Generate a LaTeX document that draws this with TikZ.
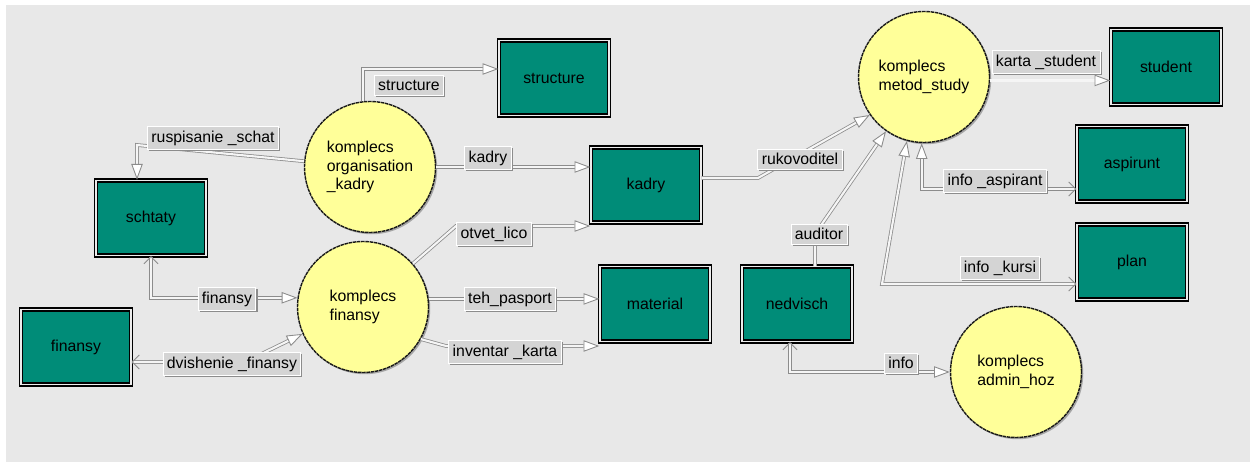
\documentclass[tikz,border=0pt]{standalone}
\usepackage{fontspec}
\setmainfont{Liberation Sans}
\usetikzlibrary{
	arrows.meta,
	positioning,
	calc,
	shadows
}

\definecolor{zelen}{RGB}{0,140,120}
\definecolor{zheltyj}{RGB}{255,255,153}
\definecolor{fon}{RGB}{232,232,232}
\definecolor{seryj}{RGB}{212,212,212}
\definecolor{liniya}{RGB}{140,140,140}

\begin{document}
\begin{tikzpicture}[
  x={(0.02cm,0)}, y={(0,-0.02cm)},
  tablica/.style={rectangle, draw=black, line width=0.8pt,
    double=white!85!gray, double distance=0.7pt, fill=zelen,
    minimum width=2.2cm, minimum height=1.5cm, inner sep=0pt,
    font=\fontsize{9}{10}\selectfont,
    drop shadow={shadow xshift=1.3pt, shadow yshift=-1.3pt, fill=black!55, opacity=1}},
  kompleks/.style={circle, draw=black!90, line width=0.8pt,
    dash pattern=on 2pt off 0.4pt, fill=zheltyj,
    minimum size=2.62cm, inner sep=0pt, align=left,
    font=\fontsize{9}{10.5}\selectfont,
    drop shadow={shadow xshift=1pt, shadow yshift=-1pt, fill=black!35, opacity=1}},
  metka/.style={rectangle, fill=seryj, draw=white, line width=0.5pt,
    inner sep=2.2pt, minimum height=0.4cm, font=\fontsize{9}{10}\selectfont,
    drop shadow={shadow xshift=0.9pt, shadow yshift=-0.9pt, fill=black!45, opacity=1}},
  potok/.style={draw=liniya, line width=0.45pt, double=white!92!gray,
    double distance=1.2pt},
  treug/.style={potok, -{Triangle[fill=white, length=9pt, width=6.5pt, line width=0.5pt]}},
  dvoj/.style={potok, {Straight Barb[length=4pt, width=8pt]}-{Triangle[fill=white, length=9pt, width=6.5pt, line width=0.5pt]}},
  obr/.style={potok, {Triangle[fill=white, length=9pt, width=6.5pt, line width=0.5pt]}-{Straight Barb[length=4pt, width=8pt]}}
]
\useasboundingbox (0,0) rectangle (1254,462);
\fill[white] (0,0) rectangle (1254,462);
\fill[fon] (6,5) rectangle (1250,462);

\foreach \name/\x/\y/\txt in {
  structure/554/78/structure,
  kadry/646/185/kadry,
  student/1166/67/student,
  aspirunt/1132/164/aspirunt,
  plan/1132/262/plan,
  schtaty/151/218/schtaty,
  finansy/76/347/finansy,
  material/655/304/material,
  nedvisch/797/304/nedvisch}
{
  \node[tablica] (\name) at (\x,\y) {\txt};
}

\node[kompleks] (okadry) at (370,167) {komplecs\\organisation\\\_kadry};
\node[kompleks] (kfin) at (363,307) {komplecs\\finansy};
\node[kompleks] (kmetod) at (924,77) {komplecs\\metod\_study};
\node[kompleks] (kadmin) at (1016,372) {komplecs\\admin\_hoz};

\draw[treug] (okadry.96) |- ([yshift=0.18cm]structure.west);
\draw[treug] (okadry.175) -- (137,145) -- (137,145 |- schtaty.north);
\draw[treug] (okadry.east) -- (okadry.east -| kadry.west);
\draw[treug] ([yshift=0.14cm]kadry.east) -- (758,178) -- (kmetod.215);
\draw[treug] (kfin.41) -- (456,226) -- (456,226 -| kadry.west);
\draw[treug] (kfin.7) -- (kfin.7 -| material.west);
\draw[treug] (kfin.-29) -- (446,346) -- (446,346 -| material.west);
\draw[dvoj] (schtaty.south) |- (kfin.172);
\draw[dvoj] (finansy.east |- 0,362) -- (245,362) -- (kfin.204);
\draw[treug] (nedvisch.north -| 815,0) -- (815,234) -- (kmetod.235);
\draw[obr] (kmetod.268) |- ([yshift=-0.5cm]aspirunt.west);
\draw[obr] (kmetod.255) -- (882,284) -- (882,284 -| plan.west);
\draw[treug] (kmetod.-3) -- (kmetod.-3 -| student.west);
\draw[dvoj] ([xshift=-0.14cm]nedvisch.south) |- (kadmin.west);

\foreach \x/\y/\txt in {
  409/85/structure,
  213/138/ruspisanie \_schat,
  488/158/kadry,
  800/159/rukovoditel,
  494/234/otvet\_lico,
  819/234/auditor,
  1046/62/karta \_student,
  995/181/info \_aspirant,
  1000/268/info \_kursi,
  227/299/finansy,
  232/364/dvishenie \_finansy,
  510/299/teh\_pasport,
  505/352/inventar \_karta,
  901/363/info}
{
  \node[metka] at (\x,\y) {\txt};
}
\end{tikzpicture}
\end{document}
